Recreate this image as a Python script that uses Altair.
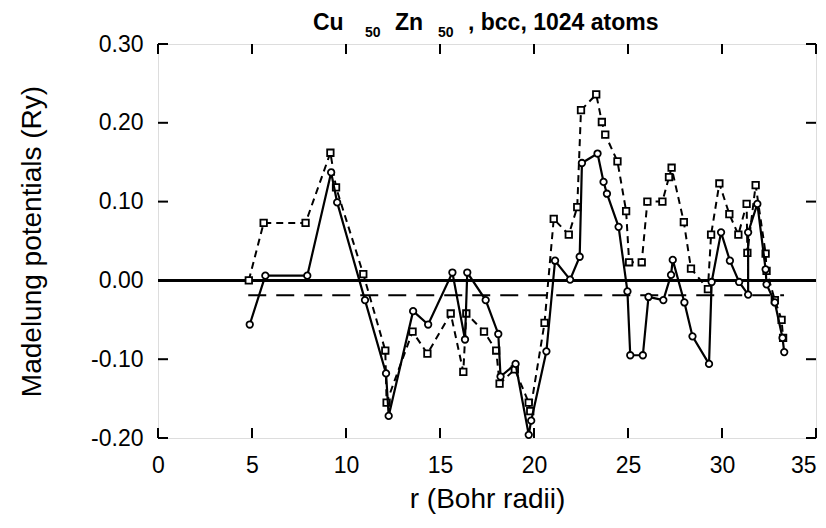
import altair as alt
import pandas as pd

# ---- data ----
solid_r = [4.88, 5.71, 7.94, 9.21, 9.53, 11.01, 12.13, 12.27, 13.57, 14.37,
           15.66, 16.33, 16.45, 17.43, 18.10, 18.22, 19.02, 19.72, 19.85, 20.66,
           21.12, 21.92, 22.43, 22.55, 23.38, 23.70, 23.88, 24.50, 24.97, 25.12,
           25.79, 26.09, 26.88, 27.29, 27.38, 28.00, 28.43, 29.31, 29.45, 29.95,
           30.42, 30.91, 31.39, 31.39, 31.88, 32.32, 32.37, 32.81, 33.22, 33.31]
solid_v = [-0.056, 0.006, 0.006, 0.137, 0.099, -0.025, -0.118, -0.172, -0.039, -0.056,
           0.010, -0.075, 0.010, -0.025, -0.068, -0.122, -0.106, -0.196, -0.178, -0.090,
           0.025, 0.001, 0.030, 0.149, 0.161, 0.125, 0.110, 0.068, -0.014, -0.095,
           -0.095, -0.021, -0.025, 0.007, 0.026, -0.028, -0.071, -0.106, -0.002, 0.061,
           0.025, -0.002, -0.018, 0.061, 0.097, 0.014, -0.005, -0.028, -0.073, -0.091]

dash_r = [4.83, 5.62, 7.85, 9.17, 9.47, 10.92, 12.09, 12.16, 13.54, 14.33,
          15.57, 16.24, 16.40, 17.34, 17.99, 18.17, 18.98, 19.72, 19.80, 20.56,
          21.05, 21.85, 22.30, 22.50, 23.31, 23.61, 23.79, 24.44, 24.90, 25.06,
          25.73, 26.03, 26.83, 27.18, 27.32, 27.97, 28.35, 29.25, 29.42, 29.86,
          30.39, 30.87, 31.31, 31.35, 31.79, 32.32, 32.37, 32.81, 33.17, 33.25]
dash_v = [0.000, 0.073, 0.073, 0.162, 0.118, 0.008, -0.089, -0.155, -0.065, -0.093,
          -0.042, -0.116, -0.042, -0.065, -0.089, -0.131, -0.113, -0.155, -0.166, -0.054,
          0.078, 0.058, 0.093, 0.216, 0.236, 0.201, 0.185, 0.151, 0.088, 0.023,
          0.023, 0.100, 0.100, 0.131, 0.143, 0.074, 0.015, -0.011, 0.058, 0.123,
          0.084, 0.058, 0.097, 0.035, 0.121, 0.034, 0.012, -0.025, -0.050, -0.073]

ref_r = [4.8, 33.3]
ref_v = [-0.019, -0.019]

x_ticks = [0, 5, 10, 15, 20, 25, 30, 35]
y_ticks = [-0.2, -0.1, 0.0, 0.1, 0.2, 0.3]

title_parts = ["Cu", "50", "Zn", "50", ", bcc, 1024 atoms"]

# ---- layout ----
W, H = 658, 394
FONT = "Liberation Sans"
TICK = 10

solid = pd.DataFrame({"x": solid_r, "y": solid_v, "i": range(len(solid_r))})
dashed = pd.DataFrame({"x": dash_r, "y": dash_v, "i": range(len(dash_r))})
ref = pd.DataFrame({"x": ref_r, "y": ref_v})
xt = pd.DataFrame({"x": x_ticks})
yt = pd.DataFrame({"y": y_ticks})

xscale = alt.Scale(domain=[0, 35], nice=False, zero=False)
yscale = alt.Scale(domain=[-0.2, 0.3], nice=False, zero=False)

xaxis = alt.Axis(values=x_ticks, title="r (Bohr radii)", grid=False, domain=False,
                 ticks=False, tickSize=0, labelFontSize=23, labelFont=FONT,
                 labelColor="black", labelPadding=16, titleFont=FONT,
                 titleFontSize=28, titleFontWeight="normal", titleColor="black",
                 titleBaseline="alphabetic", titleX=W / 2, titleY=69,
                 labelAlign={"condition": {"test": "datum.value == 35",
                                           "value": "right"},
                             "value": "center"},
                 labelFlush=False)
yaxis = alt.Axis(values=y_ticks, title="Madelung potentials (Ry)", grid=False,
                 domain=False, ticks=False, tickSize=0, labelFontSize=23,
                 labelFont=FONT, labelColor="black", labelPadding=15,
                 labelExpr="replace(format(datum.value, '.2f'), '\u2212', '-')",
                 titleFont=FONT, titleFontSize=28, titleFontWeight="normal",
                 titleColor="black", titleBaseline="alphabetic", titleX=-118,
                 titleY=H / 2, titleAngle=270, labelFlush=False)


def X(field="x"):
    return alt.X(f"{field}:Q", scale=xscale, axis=xaxis)


def Y(field="y"):
    return alt.Y(f"{field}:Q", scale=yscale, axis=yaxis)


zero = alt.Chart(yt).mark_rule(color="black", strokeWidth=2).encode(
    y=alt.datum(0, scale=yscale, axis=yaxis))

refline = alt.Chart(ref).mark_line(color="black", strokeWidth=2,
                                   strokeDash=[18, 10]).encode(x=X(), y=Y())

dline = alt.Chart(dashed).mark_line(color="black", strokeWidth=2,
                                    strokeDash=[7, 5]).encode(
    x=X(), y=Y(), order=alt.Order("i:Q"))
dpts = alt.Chart(dashed).mark_point(shape="square", size=42, filled=True,
                                    fill="white", stroke="black",
                                    strokeWidth=1.8, opacity=1).encode(x=X(), y=Y())

sline = alt.Chart(solid).mark_line(color="black", strokeWidth=2.2).encode(
    x=X(), y=Y(), order=alt.Order("i:Q"))
spts = alt.Chart(solid).mark_point(shape="circle", size=42, filled=True,
                                   fill="white", stroke="black",
                                   strokeWidth=1.8, opacity=1).encode(x=X(), y=Y())

# inward ticks on all four sides
xb = alt.Chart(xt).mark_rule(color="black", strokeWidth=2).encode(
    x=X(), y=alt.value(H), y2=alt.value(H - TICK))
xtop = alt.Chart(xt).mark_rule(color="black", strokeWidth=2).encode(
    x=X(), y=alt.value(0), y2=alt.value(TICK))
yl = alt.Chart(yt).mark_rule(color="black", strokeWidth=2).encode(
    y=Y(), x=alt.value(0), x2=alt.value(TICK))
yr = alt.Chart(yt).mark_rule(color="black", strokeWidth=2).encode(
    y=Y(), x=alt.value(W), x2=alt.value(W - TICK))

# title with subscripts
big = dict(font=FONT, fontSize=23, fontWeight="bold", color="black",
           align="left", baseline="alphabetic")
small = dict(font=FONT, fontSize=14, fontWeight="bold", color="black",
             align="left", baseline="alphabetic")
tpos = [(155, -14, big), (207, -7, small), (237, -14, big), (280, -7, small),
        (310, -14, big)]
title_layers = []
for txt, (px, py, sty) in zip(title_parts, tpos):
    title_layers.append(
        alt.Chart(yt.head(1)).mark_text(text=txt, **sty).encode(
            x=alt.value(px), y=alt.value(py)))

chart = alt.layer(zero, refline, dline, dpts, sline, spts, xb, xtop, yl, yr,
                  *title_layers).properties(
    width=W, height=H,
    padding={"left": 150, "top": 36, "right": 2, "bottom": 82},
    autosize=alt.AutoSizeParams(type="none"),
).configure_view(stroke="black", strokeWidth=2).configure(background="white")

chart.save("out.html", embed_options={"renderer": "svg", "actions": False})
